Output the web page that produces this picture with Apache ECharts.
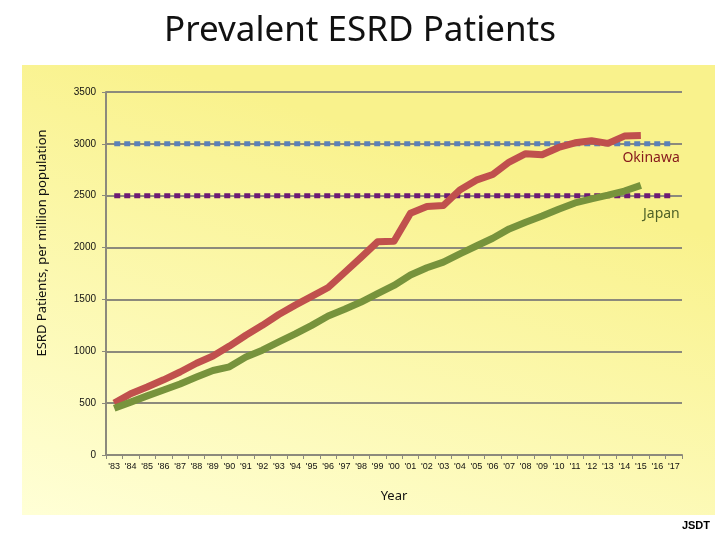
<!DOCTYPE html>
<html>
<head>
<meta charset="utf-8">
<script src="https://cdn.jsdelivr.net/npm/echarts@6/dist/echarts.min.js"></script>
<style>html,body{margin:0;padding:0;background:#fff;}#c{width:720px;height:540px;}</style>
</head>
<body>
<div id="c"></div>
<script>
var years = ["'83","'84","'85","'86","'87","'88","'89","'90","'91","'92","'93","'94","'95","'96","'97","'98","'99","'00","'01","'02","'03","'04","'05","'06","'07","'08","'09","'10","'11","'12","'13","'14","'15","'16","'17"];
var okinawa = [500,590,655,725,800,885,955,1050,1155,1250,1355,1445,1530,1615,1760,1905,2055,2060,2330,2395,2405,2555,2650,2705,2825,2905,2895,2965,3010,3030,3005,3075,3080];
var japan = [450,510,570,627,685,752,815,850,945,1010,1090,1167,1250,1340,1405,1475,1555,1635,1735,1805,1860,1940,2015,2090,2180,2245,2305,2370,2430,2470,2505,2545,2600];
var okinawaTarget = 3000;
var japanTarget = 2500;
var refNames = ['Okinawa', 'Japan'];
var yTicks = {min: 0, max: 3500, interval: 500};

var okRef = years.map(function(){ return okinawaTarget; });
var jpRef = years.map(function(){ return japanTarget; });

var chart = echarts.init(document.getElementById('c'));
var gray = '#8c8a7c';
var baseGraphic = [
  {type: 'rect', id: 'bg', z: -100, silent: true, shape: {x: 22, y: 65, width: 693, height: 450},
    style: {fill: new echarts.graphic.LinearGradient(0.2, 0, 0, 1, [
      {offset: 0, color: '#f9f28c'}, {offset: 1, color: '#ffffd6'}])}},
  {type: 'text', id: 'ytitle', x: 42, y: 243, z: 10, rotation: Math.PI/2,
    style: {text: 'ESRD Patients, per million population', fontFamily: 'Noto Sans', fontSize: 13,
      fill: '#111', align: 'center', verticalAlign: 'middle'}},
  {type: 'text', id: 'jsdt', right: 10, bottom: 9, style: {text: 'JSDT', fontFamily: 'Liberation Sans', fontSize: 11,
    fontWeight: 'bold', fill: '#000'}}
];
chart.setOption({
  backgroundColor: '#ffffff',
  animation: false,
  title: {text: 'Prevalent ESRD Patients', left: 'center', top: 9,
    textStyle: {fontFamily: 'Noto Sans', fontSize: 35, fontWeight: 'normal', color: '#111'}},
  graphic: baseGraphic,
  grid: {left: 106, right: 38, top: 92, bottom: 85},
  xAxis: {
    type: 'category', data: years, boundaryGap: true,
    name: 'Year', nameLocation: 'middle', nameGap: 35,
    nameTextStyle: {fontFamily: 'Noto Sans', fontSize: 13, color: '#111'},
    axisLine: {lineStyle: {color: gray, width: 2}},
    axisTick: {show: true, length: 4, lineStyle: {color: gray}},
    axisLabel: {interval: 0, fontSize: 9, margin: 7, color: '#111', fontFamily: 'Liberation Sans'}
  },
  yAxis: {
    type: 'value', min: yTicks.min, max: yTicks.max, interval: yTicks.interval,
    axisLine: {show: true, lineStyle: {color: gray, width: 2}},
    axisTick: {show: true, length: 4, lineStyle: {color: gray}},
    axisLabel: {fontSize: 10, margin: 10, color: '#111', fontFamily: 'Liberation Sans',
      formatter: function(v){ return String(v); }},
    splitLine: {lineStyle: {color: gray, width: 2}}
  },
  series: [
    {type: 'line', data: okRef, symbol: 'none',
      lineStyle: {color: '#5b81b8', width: 5, type: [6, 4], cap: 'butt'}},
    {type: 'line', data: jpRef, symbol: 'none',
      lineStyle: {color: '#6e1a74', width: 5, type: [6, 4], cap: 'butt'}},
    {type: 'line', data: okinawa, symbol: 'none', lineStyle: {color: '#c0504d', width: 7, cap: 'butt', join: 'round'}},
    {type: 'line', data: japan, symbol: 'none', lineStyle: {color: '#77933c', width: 7, cap: 'butt', join: 'round'}}
  ]
});
var last = years.length - 1;
var pOk = chart.convertToPixel({gridIndex: 0}, [last, okinawaTarget]);
var pJp = chart.convertToPixel({gridIndex: 0}, [last, japanTarget]);
chart.setOption({graphic: [
  {type: 'text', id: 'lblOk', x: pOk[0] + 6, y: pOk[1] + 14, z: 10,
    style: {text: refNames[0], fontFamily: 'Noto Sans', fontSize: 14, fill: '#86191c', align: 'right', verticalAlign: 'middle'}},
  {type: 'text', id: 'lblJp', x: pJp[0] + 6, y: pJp[1] + 18, z: 10,
    style: {text: refNames[1], fontFamily: 'Noto Sans', fontSize: 14, fill: '#4f6228', align: 'right', verticalAlign: 'middle'}}
]});
</script>
</body>
</html>
